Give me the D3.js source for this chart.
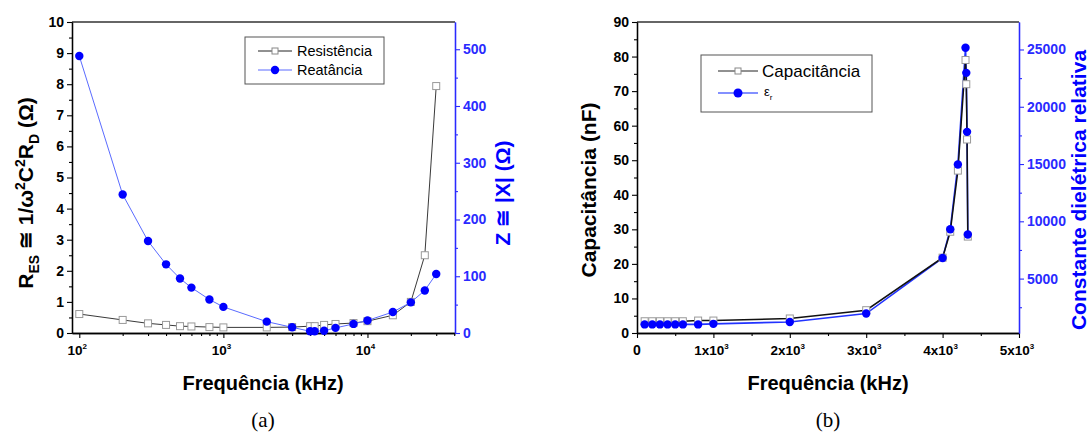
<!DOCTYPE html>
<html>
<head>
<meta charset="utf-8">
<script src="https://cdn.jsdelivr.net/npm/d3@7"></script>
<style>
  body { margin: 0; background: #fff; }
  svg text { font-family: Arial, "Liberation Sans", sans-serif; }
</style>
</head>
<body>
<div id="chart"></div>
<script>
// chart (a): resistance / reactance vs frequency (log)
var freqA = [100, 200, 300, 400, 500, 600, 800, 1000, 2000, 3000, 4000, 4300, 5000, 6000, 8000, 10000, 15000, 20000, 25000, 30000];
var resistA = [0.61, 0.42, 0.31, 0.26, 0.22, 0.21, 0.19, 0.18, 0.18, 0.19, 0.22, 0.22, 0.26, 0.29, 0.32, 0.38, 0.57, 1.0, 2.5, 7.94];
var reactA = [488, 244, 162, 121, 96, 80, 59, 46, 20, 10, 3, 3, 4, 9, 16, 22, 37, 54, 75, 104];

// chart (b): capacitance / relative permittivity vs frequency (linear)
var freqB = [100, 200, 300, 400, 500, 600, 800, 1000, 2000, 3000, 4000, 4100, 4200, 4300, 4310, 4320, 4330];
var capB = [3.4, 3.4, 3.4, 3.4, 3.4, 3.4, 3.6, 3.6, 4.2, 6.6, 21.8, 29.3, 47, 79, 72, 56, 27.9];
var epsB = [1000, 1000, 1000, 1000, 1000, 1000, 1000, 1050, 1210, 1950, 6800, 9310, 14960, 25150, 22960, 17810, 8850];

var ticksLeftA = [0, 1, 2, 3, 4, 5, 6, 7, 8, 9, 10];
var ticksRightA = [0, 100, 200, 300, 400, 500];
var ticksXA = [100, 1000, 10000];
var ticksLeftB = [0, 10, 20, 30, 40, 50, 60, 70, 80, 90];
var ticksRightB = [5000, 10000, 15000, 20000, 25000];
var ticksXB = [0, 1000, 2000, 3000, 4000, 5000];

var blue = "#0000ff";
var axisBlue = "#2a2aff";

var svg = d3.select("#chart").append("svg")
    .attr("width", 1091)
    .attr("height", 432);

svg.append("rect").attr("width", 1091).attr("height", 432).attr("fill", "#fff");

function styleAxis(g, color) {
  g.select(".domain").attr("stroke", color).attr("stroke-width", 1.3);
  g.selectAll(".tick line").attr("stroke", color).attr("stroke-width", 1.1);
  g.selectAll(".tick text")
    .attr("fill", color)
    .style("font-size", "14px")
    .style("font-weight", "bold")
    .style("font-family", "Arial, 'Liberation Sans', sans-serif");
}

function supLabel(g, x, y, base, sup, color) {
  var t = g.append("text")
      .attr("x", x).attr("y", y)
      .attr("text-anchor", "middle")
      .attr("fill", color)
      .style("font-size", "13.5px")
      .style("font-weight", "bold");
  t.append("tspan").text(base);
  t.append("tspan").attr("dy", -6).style("font-size", "8px").text(sup);
}

// ---------- chart (a) ----------
var xA = d3.scaleLog().domain([89, 40500]).range([72, 455]);
var yA = d3.scaleLinear().domain([0, 10]).range([333, 22]);
var y2A = d3.scaleLinear().domain([0, 548]).range([333, 22]);

var gA = svg.append("g");

// top frame
gA.append("line").attr("x1", 72).attr("x2", 455).attr("y1", 22).attr("y2", 22)
    .attr("stroke", "#333").attr("stroke-width", 1.3);

// minor ticks
var minorXA = [];
[100, 1000, 10000].forEach(function(d) {
  for (var k = 2; k <= 9; k++) { if (d * k < 40500) minorXA.push(d * k); }
});
gA.append("g").attr("transform", "translate(0,333)")
    .call(d3.axisBottom(xA).tickValues(minorXA).tickSize(3).tickFormat("").tickSizeOuter(0))
    .call(styleAxis, "#000");
gA.append("g").attr("transform", "translate(0,333)")
    .call(d3.axisBottom(xA).tickValues(ticksXA).tickSize(5).tickFormat("").tickSizeOuter(0))
    .call(styleAxis, "#000");
ticksXA.forEach(function(d) {
  supLabel(gA, xA(d) - 2, 355, "10", String(Math.round(Math.log10(d))), "#000");
});

gA.append("g").attr("transform", "translate(72,0)")
    .call(d3.axisLeft(yA).tickValues(d3.range(0.5, 10, 1)).tickSize(3).tickFormat("").tickSizeOuter(0))
    .call(styleAxis, "#000");
gA.append("g").attr("transform", "translate(72,0)")
    .call(d3.axisLeft(yA).tickValues(ticksLeftA).tickSize(5).tickPadding(3).tickSizeOuter(0))
    .call(styleAxis, "#000");

gA.append("g").attr("transform", "translate(455,0)")
    .call(d3.axisRight(y2A).tickValues([50, 150, 250, 350, 450]).tickSize(3).tickFormat("").tickSizeOuter(0))
    .call(styleAxis, axisBlue);
gA.append("g").attr("transform", "translate(455,0)")
    .call(d3.axisRight(y2A).tickValues(ticksRightA).tickSize(5).tickPadding(3).tickFormat(d3.format("d")).tickSizeOuter(0))
    .call(styleAxis, axisBlue);

// resistance line (black) with grey squares
var lineRes = d3.line().x(function(d, i) { return xA(freqA[i]); }).y(function(d) { return yA(d); });
gA.append("path").datum(resistA).attr("d", lineRes)
    .attr("fill", "none").attr("stroke", "#222").attr("stroke-width", 0.9);
gA.selectAll(".sqA").data(resistA).enter().append("rect")
    .attr("x", function(d, i) { return xA(freqA[i]) - 3.5; })
    .attr("y", function(d) { return yA(d) - 3.5; })
    .attr("width", 7).attr("height", 7)
    .attr("fill", "#fff").attr("stroke", "#999").attr("stroke-width", 1);

// reactance line (blue) with circles
var lineReact = d3.line().x(function(d, i) { return xA(freqA[i]); }).y(function(d) { return y2A(d); });
gA.append("path").datum(reactA).attr("d", lineReact)
    .attr("fill", "none").attr("stroke", "#5a6bff").attr("stroke-width", 1);
gA.selectAll(".ciA").data(reactA).enter().append("circle")
    .attr("cx", function(d, i) { return xA(freqA[i]); })
    .attr("cy", function(d) { return y2A(d); })
    .attr("r", 4.2).attr("fill", blue);

// legend (a)
gA.append("rect").attr("x", 245).attr("y", 37).attr("width", 139).attr("height", 47)
    .attr("fill", "#fff").attr("stroke", "#555").attr("stroke-width", 1);
gA.append("line").attr("x1", 258).attr("x2", 292).attr("y1", 51).attr("y2", 51).attr("stroke", "#222");
gA.append("rect").attr("x", 272).attr("y", 48).attr("width", 6).attr("height", 6)
    .attr("fill", "#fff").attr("stroke", "#888");
gA.append("line").attr("x1", 258).attr("x2", 292).attr("y1", 70).attr("y2", 70).attr("stroke", "#5a6bff");
gA.append("circle").attr("cx", 275).attr("cy", 70).attr("r", 4.2).attr("fill", blue);
gA.append("text").attr("x", 297).attr("y", 56).style("font-size", "14.5px").text("Resistência");
gA.append("text").attr("x", 297).attr("y", 75).style("font-size", "14.5px").text("Reatância");

// titles (a)
var tA = gA.append("text").attr("transform", "translate(33,193) rotate(-90)")
    .attr("text-anchor", "middle").style("font-size", "21px").style("font-weight", "bold");
tA.append("tspan").text("R");
tA.append("tspan").attr("dy", 6).style("font-size", "14px").text("ES");
tA.append("tspan").attr("dy", -6).text(" \u2245 1/\u03c9");
tA.append("tspan").attr("dy", -8).style("font-size", "14px").text("2");
tA.append("tspan").attr("dy", 8).text("C");
tA.append("tspan").attr("dy", -8).style("font-size", "14px").text("2");
tA.append("tspan").attr("dy", 8).text("R");
tA.append("tspan").attr("dy", 6).style("font-size", "14px").text("D");
tA.append("tspan").attr("dy", -6).text(" (\u03a9)");

gA.append("text").attr("transform", "translate(510,193) rotate(-90)")
    .attr("text-anchor", "middle").attr("fill", blue)
    .style("font-size", "21px").style("font-weight", "bold")
    .text("Z \u2245 |X| (\u03a9)");

gA.append("text").attr("x", 263).attr("y", 390).attr("text-anchor", "middle")
    .style("font-size", "20px").style("font-weight", "bold").text("Frequência (kHz)");
gA.append("text").attr("x", 263).attr("y", 427).attr("text-anchor", "middle")
    .style("font-family", "'Liberation Serif', 'Times New Roman', serif")
    .style("font-size", "21px").text("(a)");

// ---------- chart (b) ----------
var xB = d3.scaleLinear().domain([0, 5000]).range([637, 1019]);
var yB = d3.scaleLinear().domain([0, 90]).range([333, 22]);
var y2B = d3.scaleLinear().domain([250, 27400]).range([333, 22]);

var gB = svg.append("g");

gB.append("line").attr("x1", 637).attr("x2", 1019).attr("y1", 22).attr("y2", 22)
    .attr("stroke", "#333").attr("stroke-width", 1.3);

gB.append("g").attr("transform", "translate(0,333)")
    .call(d3.axisBottom(xB).tickValues([500, 1500, 2500, 3500, 4500]).tickSize(3).tickFormat("").tickSizeOuter(0))
    .call(styleAxis, "#000");
gB.append("g").attr("transform", "translate(0,333)")
    .call(d3.axisBottom(xB).tickValues(ticksXB).tickSize(5).tickFormat("").tickSizeOuter(0))
    .call(styleAxis, "#000");
ticksXB.forEach(function(d) {
  if (d === 0) {
    gB.append("text").attr("x", xB(d)).attr("y", 355).attr("text-anchor", "middle")
        .style("font-size", "14px").style("font-weight", "bold").text("0");
  } else {
    supLabel(gB, xB(d) - 2, 355, (d / 1000) + "x10", "3", "#000");
  }
});

gB.append("g").attr("transform", "translate(637,0)")
    .call(d3.axisLeft(yB).tickValues(d3.range(5, 90, 10)).tickSize(3).tickFormat("").tickSizeOuter(0))
    .call(styleAxis, "#000");
gB.append("g").attr("transform", "translate(637,0)")
    .call(d3.axisLeft(yB).tickValues(ticksLeftB).tickSize(5).tickPadding(3).tickSizeOuter(0))
    .call(styleAxis, "#000");

gB.append("g").attr("transform", "translate(1019,0)")
    .call(d3.axisRight(y2B).tickValues([2500, 7500, 12500, 17500, 22500]).tickSize(3).tickFormat("").tickSizeOuter(0))
    .call(styleAxis, axisBlue);
gB.append("g").attr("transform", "translate(1019,0)")
    .call(d3.axisRight(y2B).tickValues(ticksRightB).tickSize(5).tickPadding(3).tickFormat(d3.format("d")).tickSizeOuter(0))
    .call(styleAxis, axisBlue);

var lineCap = d3.line().x(function(d, i) { return xB(freqB[i]); }).y(function(d) { return yB(d); });
var lineEps = d3.line().x(function(d, i) { return xB(freqB[i]); }).y(function(d) { return y2B(d); });

gB.append("path").datum(epsB).attr("d", lineEps)
    .attr("fill", "none").attr("stroke", "#2233ff").attr("stroke-width", 1.6);
gB.append("path").datum(capB).attr("d", lineCap)
    .attr("fill", "none").attr("stroke", "#111").attr("stroke-width", 1.5);
gB.selectAll(".sqB").data(capB).enter().append("rect")
    .attr("x", function(d, i) { return xB(freqB[i]) - 3.5; })
    .attr("y", function(d) { return yB(d) - 3.5; })
    .attr("width", 7).attr("height", 7)
    .attr("fill", "#fff").attr("stroke", "#999").attr("stroke-width", 1);
gB.selectAll(".ciB").data(epsB).enter().append("circle")
    .attr("cx", function(d, i) { return xB(freqB[i]); })
    .attr("cy", function(d) { return y2B(d); })
    .attr("r", 4.2).attr("fill", blue);

// legend (b)
gB.append("rect").attr("x", 701).attr("y", 55).attr("width", 171).attr("height", 57)
    .attr("fill", "#fff").attr("stroke", "#555").attr("stroke-width", 1);
gB.append("line").attr("x1", 718).attr("x2", 758).attr("y1", 71).attr("y2", 71).attr("stroke", "#222");
gB.append("rect").attr("x", 735).attr("y", 68).attr("width", 6).attr("height", 6)
    .attr("fill", "#fff").attr("stroke", "#888");
gB.append("line").attr("x1", 718).attr("x2", 758).attr("y1", 93).attr("y2", 93).attr("stroke", "#5a6bff").attr("stroke-width", 1.5);
gB.append("circle").attr("cx", 738).attr("cy", 93).attr("r", 4.5).attr("fill", blue);
gB.append("text").attr("x", 762).attr("y", 77).style("font-size", "17px").text("Capacitância");
var epsT = gB.append("text").attr("x", 764).attr("y", 96).style("font-size", "13px");
epsT.append("tspan").text("\u03b5");
epsT.append("tspan").attr("dy", 4).style("font-size", "8px").text("r");

// titles (b)
gB.append("text").attr("transform", "translate(596,190) rotate(-90)")
    .attr("text-anchor", "middle").style("font-size", "21px").style("font-weight", "bold")
    .text("Capacitância (nF)");
gB.append("text").attr("transform", "translate(1086,190) rotate(-90)")
    .attr("text-anchor", "middle").attr("fill", blue)
    .style("font-size", "21px").style("font-weight", "bold")
    .text("Constante dielétrica relativa");

gB.append("text").attr("x", 828).attr("y", 390).attr("text-anchor", "middle")
    .style("font-size", "20px").style("font-weight", "bold").text("Frequência (kHz)");
gB.append("text").attr("x", 828).attr("y", 427).attr("text-anchor", "middle")
    .style("font-family", "'Liberation Serif', 'Times New Roman', serif")
    .style("font-size", "21px").text("(b)");
</script>
</body>
</html>
